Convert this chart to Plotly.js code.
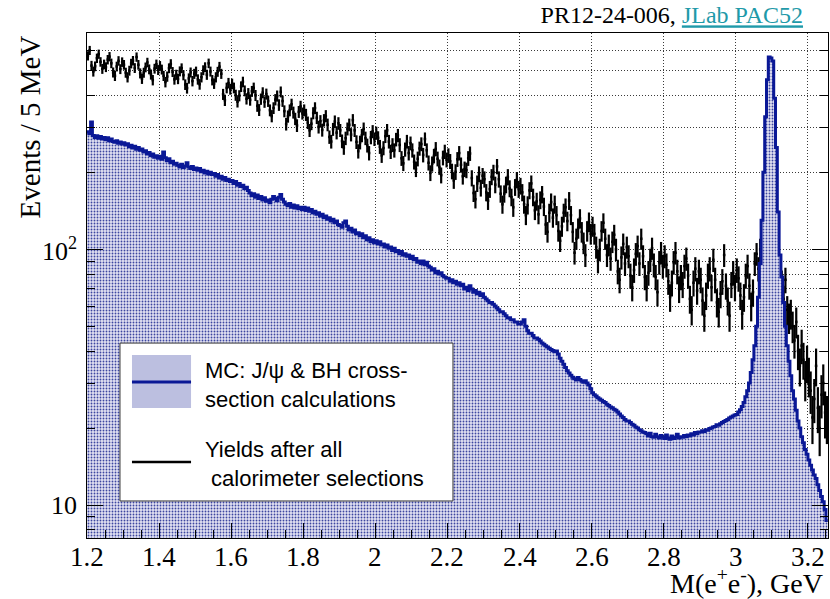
<!DOCTYPE html>
<html>
<head>
<meta charset="utf-8">
<script src="https://cdn.plot.ly/plotly-3.0.1.min.js"></script>
<style>html,body{margin:0;padding:0;background:#fff;}#chart{width:830px;height:599px;}</style>
</head>
<body>
<div id="chart"></div>
<script>
// Histogram binning: 5 MeV bins starting at 1.2 GeV
const binStart = 1.2;
const binWidth = 0.005;

// MC: J/psi & BH cross-section calculations (events per bin), rows of 0.05 GeV
const mcCounts = [
  288, 283, 315, 279, 274, 278, 272, 276, 270, 274,   // 1.20
  268, 273, 266, 270, 264, 262, 266, 260, 263, 258,   // 1.25
  261, 256, 259, 252, 255, 249, 253, 246, 250, 244,   // 1.30
  247, 240, 243, 236, 239, 233, 236, 229, 232, 227,   // 1.35
  231, 225, 240, 228, 222, 226, 218, 221, 215, 217,   // 1.40
  213, 210, 215, 209, 212, 218, 210, 207, 211, 205,   // 1.45
  208, 204, 207, 201, 204, 199, 202, 197, 200, 196,   // 1.50
  198, 193, 196, 190, 193, 188, 191, 186, 188, 184,   // 1.55
  186, 181, 184, 178, 181, 176, 178, 173, 175, 170,   // 1.60
  166, 162, 165, 160, 163, 158, 161, 156, 159, 154,   // 1.65
  156, 152, 157, 161, 158, 155, 160, 164, 157, 153,   // 1.70
  150, 148, 151, 146, 149, 145, 148, 144, 146, 143,   // 1.75
  146, 142, 145, 141, 143, 139, 141, 137, 139, 135,   // 1.80
  137, 133, 135, 131, 133, 129, 131, 127, 129, 125,   // 1.85
  124, 122, 127, 129, 123, 119, 121, 117, 119, 115,   // 1.90
  116, 113, 115, 111, 113, 109, 111, 107, 109, 106,   // 1.95
  108, 105, 107, 104, 105, 102, 104, 101, 102, 99,    // 2.00
  101, 98, 99, 96, 98, 95, 96, 94, 95, 92,            // 2.05
  94, 91, 92, 89, 90, 88, 90, 87, 89, 86,             // 2.10
  85, 83, 84, 81, 82, 80, 81, 79, 78, 77,             // 2.15
  77, 75, 76, 74, 75, 73, 74, 72, 73, 70,             // 2.20
  71, 69, 72, 70, 68, 69, 67, 68, 66, 67,             // 2.25
  65, 64, 63, 62, 62, 61, 60, 59, 58, 57,             // 2.30
  57, 56, 55, 54, 54, 53, 53, 52, 52, 51,             // 2.35
  51, 52, 53, 50, 48, 47, 47, 46, 45, 45,             // 2.40
  44.5, 43.8, 43, 42.5, 42, 41.5, 41, 40.6, 40.2, 39.8, // 2.45
  40, 39, 37.5, 36.5, 35.5, 34.5, 33.5, 32.8, 32.2, 31.6, // 2.50
  31.2, 30.8, 31.5, 31, 30.6, 30.2, 30.6, 30, 29.5, 28.5, // 2.55
  27.5, 27, 26.7, 26.3, 26, 25.7, 25.4, 25.2, 24.8, 24.5, // 2.60
  24.2, 24, 23.7, 23.5, 23.1, 22.7, 22.3, 22, 21.6, 21.3, // 2.65
  21.3, 21, 20.7, 20.5, 20.2, 20, 19.7, 19.5, 19.3, 19.2, // 2.70
  19.0, 18.6, 19.1, 18.5, 18.4, 18.9, 18.5, 18.3, 18.7, 18.4, // 2.75
  18.2, 18.8, 18.3, 18.1, 18.6, 18.2, 18.4, 18.9, 18.3, 18.5, // 2.80
  18.4, 18.7, 18.5, 18.8, 18.6, 19.0, 18.8, 19.2, 19.0, 19.3, // 2.85
  19.3, 19.5, 19.4, 19.7, 19.6, 19.9, 20.0, 20.2, 20.3, 20.6, // 2.90
  20.5, 20.8, 21.0, 21.2, 21.4, 21.6, 21.9, 22.1, 22.3, 22.5, // 2.95
  22.6, 23.1, 23.6, 24.3, 25.2, 26.5, 28, 30, 33, 37,   // 3.00
  42, 50, 65, 88, 130, 200, 330, 460, 565, 560,         // 3.05
  545, 390, 250, 140, 95, 78, 62, 50, 42, 36.5,         // 3.10
  32, 28, 26, 23.5, 21.3, 20, 18.5, 17.5, 16.5, 15.8,   // 3.15
  15, 14.3, 13.7, 13.1, 12.7, 12, 11.4, 10.8, 10.3, 9.6, // 3.20
  8.7                                                   // 3.25
];

// Yields after all calorimeter selections (events per bin)
const dataCounts = [
  571, 600, 523, 496, 520, 559, 580, 541, 508, 529,   // 1.20
  516, 552, 567, 534, 492, 477, 519, 546, 507, 540,   // 1.25
  527, 491, 471, 500, 533, 547, 512, 565, 527, 488,   // 1.30
  465, 491, 515, 538, 506, 483, 459, 509, 529, 503,   // 1.35
  522, 505, 477, 451, 474, 511, 531, 494, 462, 482,   // 1.40
  464, 497, 511, 480, 441, 427, 466, 492, 455, 486,   // 1.45
  496, 462, 442, 471, 502, 516, 482, 534, 496, 459,   // 1.50
  445, 471, 495, 518, 486, 404, 383, 428, 447, 423,   // 1.55
  444, 428, 401, 378, 399, 433, 452, 417, 388, 407,   // 1.60
  384, 415, 428, 400, 364, 351, 387, 410, 377, 405,   // 1.65
  380, 350, 332, 357, 385, 398, 367, 413, 380, 347,   // 1.70
  309, 331, 350, 369, 343, 324, 305, 345, 362, 340,   // 1.75
  350, 336, 313, 292, 310, 341, 357, 327, 301, 317,   // 1.80
  293, 320, 332, 307, 275, 264, 295, 316, 286, 311,   // 1.85
  292, 265, 250, 272, 296, 307, 281, 320, 292, 263,   // 1.90
  242, 262, 279, 296, 272, 255, 238, 274, 289, 270,   // 1.95
  285, 273, 252, 233, 249, 277, 292, 264, 241, 256,   // 2.00
  244, 269, 279, 256, 227, 217, 246, 264, 238, 260,   // 2.05
  244, 220, 206, 226, 248, 258, 234, 270, 244, 218,   // 2.10
  199, 216, 232, 247, 226, 210, 195, 228, 241, 224,   // 2.15
  233, 221, 202, 186, 201, 225, 238, 214, 193, 206,   // 2.20
  204, 227, 237, 190, 166, 157, 181, 197, 174, 194,   // 2.25
  188, 167, 155, 172, 192, 200, 179, 211, 188, 165,   // 2.30
  150, 165, 179, 192, 173, 160, 146, 175, 187, 172,   // 2.35
  177, 167, 150, 136, 149, 170, 181, 160, 142, 154,   // 2.40
  137, 156, 164, 147, 125, 117, 139, 153, 133, 150,   // 2.45
  136, 118, 108, 123, 139, 146, 129, 155, 136, 117,   // 2.50
  97, 110, 121, 132, 117, 106, 95, 118, 128, 115,     // 2.55
  123, 115, 102, 90, 100, 118, 127, 110, 95, 104,     // 2.60
  92, 107, 114, 100, 82, 76, 93, 105, 88, 102,        // 2.65
  94, 79, 71, 83, 96, 103, 88, 110, 94, 78,           // 2.70
  71, 81, 91, 101, 87, 78, 68, 89, 97, 86,            // 2.75
  94, 87, 75, 65, 74, 89, 97, 82, 70, 78,             // 2.80
  73, 86, 92, 79, 64, 58, 74, 84, 69, 82,             // 2.85
  76, 63, 55, 66, 79, 84, 71, 91, 76, 62,             // 2.90
  57, 67, 75, 95, 72, 63, 55, 73, 81, 71,             // 2.95
  83, 77, 66, 56, 65, 79, 86, 72, 60, 68,             // 3.00
  88, 96, 84, 100, 108, 112, 150, 200, 250, 280,      // 3.05
  270, 220, 160, 110, 78, 74, 64, 76, 58, 54,         // 3.10
  56, 50, 44, 52, 40, 35, 42, 37, 31, 36,             // 3.15
  32, 28, 22, 26, 35, 24, 20, 27, 30, 23,             // 3.20
  22                                                  // 3.25
];

// Axis ticks
const xTickVals = [1.2, 1.4, 1.6, 1.8, 2.0, 2.2, 2.4, 2.6, 2.8, 3.0, 3.2];
const xTickText = ['1.2', '1.4', '1.6', '1.8', '2', '2.2', '2.4', '2.6', '2.8', '3', '3.2'];
const yTickVals = [10, 100];
const yTickText = ['10', '10<sup>2</sup>'];
const yMinorVals = [8, 9, 20, 30, 40, 50, 60, 70, 80, 90, 200, 300, 400, 500, 600, 700];

// Derived bin geometry
const nBins = mcCounts.length;
const edges = [];
for (let i = 0; i <= nBins; i++) edges.push(+(binStart + i * binWidth).toFixed(4));
const centers = dataCounts.map((_, i) => +(binStart + (i + 0.5) * binWidth).toFixed(5));
const mcStepY = mcCounts.concat([mcCounts[nBins - 1]]);
const dataErr = dataCounts.map(v => Math.sqrt(v));

const serif = 'Liberation Serif';
const sans = 'Liberation Sans';
const gridCol = '#3a3a3a';
const gridDash = '1px,2px';
const xTickFont = {family: serif, size: 27, color: '#000'};
const yTickFont = {family: serif, size: 26, color: '#000'};

const traces = [
  {
    type: 'scatter', mode: 'markers', x: centers, y: dataCounts,
    marker: {size: 2.5, color: '#000', symbol: 'square'},
    error_y: {type: 'data', array: dataErr, visible: true, width: 0, thickness: 2.2, color: '#000'},
    showlegend: false, hoverinfo: 'x+y'
  },
  {
    type: 'scatter', mode: 'lines', x: edges, y: mcStepY,
    line: {shape: 'hv', color: '#0a1896', width: 3},
    fill: 'tozeroy',
    fillcolor: '#e2e2f2',
    fillpattern: {shape: '.', bgcolor: '#e2e2f2', fgcolor: '#3c46a0', size: 3, solidity: 0.3},
    showlegend: false, hoverinfo: 'x+y'
  }
];

// Tick labels as serif text placed through the axes
const tickAnnotations = [];
xTickVals.forEach((v, i) => tickAnnotations.push({
  text: xTickText[i], xref: 'x', yref: 'paper', x: v, y: -0.038,
  xanchor: 'center', yanchor: 'middle', showarrow: false, font: xTickFont
}));
yTickVals.forEach((v, i) => tickAnnotations.push({
  text: yTickText[i], xref: 'paper', yref: 'y', x: -0.0105, y: Math.log10(v),
  xanchor: 'right', yanchor: 'middle', showarrow: false, font: yTickFont
}));

// plot area: x 87..828, y 33..538 in pixels
const layout = {
  width: 830, height: 599,
  margin: {l: 87, r: 2, t: 33, b: 61, pad: 0},
  paper_bgcolor: '#fff', plot_bgcolor: '#fff',
  font: {family: serif, size: 26, color: '#000'},
  showlegend: false,
  title: {
    text: 'PR12-24-006, <span style="color:#1f9aa9;text-decoration:underline">JLab PAC52</span>',
    font: {family: serif, size: 24, color: '#000'},
    x: 0.9675, xref: 'container', xanchor: 'right',
    y: 0.975, yref: 'container', yanchor: 'middle'
  },
  xaxis: {
    range: [1.2, 3.2556],
    tickmode: 'array', tickvals: xTickVals, ticktext: xTickText, showticklabels: false,
    ticks: 'inside', ticklen: 15, tickwidth: 1, tickcolor: '#000',
    showline: true, linecolor: '#000', linewidth: 1, mirror: true,
    showgrid: true, gridcolor: gridCol, griddash: gridDash, gridwidth: 1,
    zeroline: false,
    minor: {tickmode: 'linear', tick0: 1.2, dtick: 0.05, ticks: 'inside', ticklen: 8, tickcolor: '#000', showgrid: false}
  },
  yaxis: {
    type: 'log', range: [0.871, 2.846],
    tickmode: 'array', tickvals: yTickVals, ticktext: yTickText, showticklabels: false,
    ticks: 'inside', ticklen: 16, tickwidth: 1, tickcolor: '#000',
    showline: true, linecolor: '#000', linewidth: 1, mirror: 'ticks',
    showgrid: true, gridcolor: gridCol, griddash: gridDash, gridwidth: 1,
    zeroline: false,
    minor: {tickmode: 'array', tickvals: yMinorVals, ticks: 'inside', ticklen: 8, tickcolor: '#000',
            showgrid: true, gridcolor: gridCol, griddash: gridDash, gridwidth: 1}
  },
  shapes: [
    // legend box
    {type: 'rect', xref: 'paper', yref: 'paper', x0: 0.0445, x1: 0.4939, y0: 0.0733, y1: 0.386,
     fillcolor: '#fff', line: {color: '#333', width: 1}, layer: 'above'},
    // MC patch
    {type: 'rect', xref: 'paper', yref: 'paper', x0: 0.0607, x1: 0.1404, y0: 0.2574, y1: 0.3624,
     fillcolor: '#bcbfe0', line: {width: 0}, layer: 'above'},
    {type: 'line', xref: 'paper', yref: 'paper', x0: 0.0607, x1: 0.1404, y0: 0.309, y1: 0.309,
     line: {color: '#0a1896', width: 3}, layer: 'above'},
    // data line
    {type: 'line', xref: 'paper', yref: 'paper', x0: 0.0607, x1: 0.1404, y0: 0.1505, y1: 0.1505,
     line: {color: '#000', width: 2.5}, layer: 'above'}
  ],
  annotations: tickAnnotations.concat([
    {text: 'Events / 5 MeV', textangle: -90, xref: 'paper', yref: 'paper', x: -0.077, y: 1,
     xanchor: 'center', yanchor: 'top', showarrow: false, font: {family: serif, size: 29, color: '#000'}},
    {text: 'M(e<sup>+</sup>e<sup>-</sup>), GeV', xref: 'paper', yref: 'paper', x: 0.996, y: -0.087,
     xanchor: 'right', yanchor: 'middle', showarrow: false, font: {family: serif, size: 28, color: '#000'}},
    {text: 'MC: J/\u03c8 &amp; BH cross-<br>section calculations', xref: 'paper', yref: 'paper',
     x: 0.1565, y: 0.303, xanchor: 'left', yanchor: 'middle', align: 'left', showarrow: false,
     font: {family: sans, size: 22, color: '#000'}},
    {text: 'Yields after all<br>\u00a0calorimeter selections', xref: 'paper', yref: 'paper',
     x: 0.1565, y: 0.1475, xanchor: 'left', yanchor: 'middle', align: 'left', showarrow: false,
     font: {family: sans, size: 22, color: '#000'}}
  ])
};

Plotly.newPlot('chart', traces, layout, {displayModeBar: false, staticPlot: true});
</script>
</body>
</html>
